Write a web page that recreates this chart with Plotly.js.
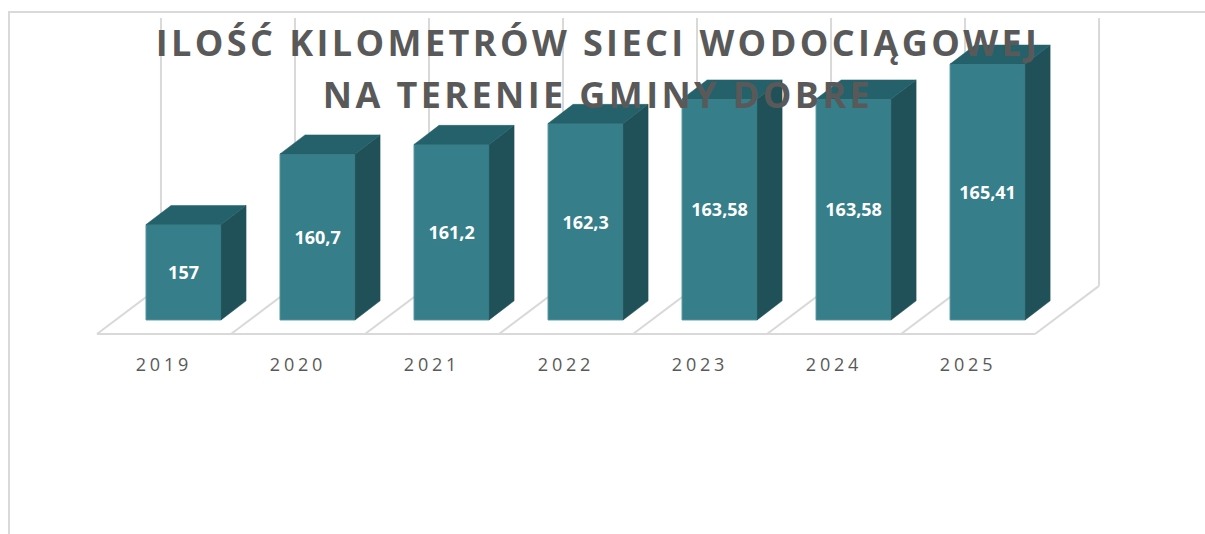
<!DOCTYPE html>
<html>
<head>
<meta charset="utf-8">
<script src="https://cdn.plot.ly/plotly-3.0.1.min.js"></script>
<style>
html,body{margin:0;padding:0;background:#fff;overflow:hidden}
.xtick text{letter-spacing:3.8px}
.gtitle{letter-spacing:3.4px}
</style>
</head>
<body>
<div id="chart" style="width:1205px;height:534px"></div>
<script>
const categories = ["2019","2020","2021","2022","2023","2024","2025"];
const values = [157,160.7,161.2,162.3,163.58,163.58,165.41];

const baseValue = 152;
const barLeft = -0.134, barWidth = 0.56;
const depthX = 0.1866, depthY = 1.0;
const floorFront = 151.264, floorBack = 153.786, wallTop = 167.825, floorDX = 0.4776;

const positions = categories.map((_, i) => i);
const sideX = [], sideY = [], topX = [], topY = [];
values.forEach((v, i) => {
  const l = i + barLeft, r = l + barWidth;
  sideX.push(r, r + depthX, r + depthX, r, r, null);
  sideY.push(v, v + depthY, baseValue + depthY, baseValue, v, null);
  topX.push(l, l + depthX, r + depthX, r, l, null);
  topY.push(v, v + depthY, v + depthY, v, v, null);
});

const gridColor = "#d9d9d9";
const shapes = [];
for (let k = 0; k <= categories.length; k++) {
  const fx = k - 0.5, bx = fx + floorDX;
  shapes.push({type:"line",layer:"below",xref:"x",yref:"y",x0:fx,x1:bx,y0:floorFront,y1:floorBack,line:{color:gridColor,width:2}});
  shapes.push({type:"line",layer:"below",xref:"x",yref:"y",x0:bx,x1:bx,y0:floorBack,y1:wallTop,line:{color:gridColor,width:2}});
}
shapes.push({type:"line",layer:"below",xref:"x",yref:"y",x0:-0.5,x1:categories.length-0.5,y0:floorFront,y1:floorFront,line:{color:gridColor,width:2}});
// outer chart frame (left and top edges only are in view)
const px = p => (p - 90) / (1105 - 90), py = p => 1 - (p - 10) / (340 - 10);
shapes.push({type:"line",layer:"below",xref:"paper",yref:"paper",x0:px(9),x1:px(9),y0:py(12),y1:py(536),line:{color:gridColor,width:2}});
shapes.push({type:"line",layer:"below",xref:"paper",yref:"paper",x0:px(8),x1:px(1207),y0:py(12),y1:py(12),line:{color:gridColor,width:2}});

const traces = [
  {type:"bar",x:positions,y:values.map(v=>v-baseValue),base:baseValue,offset:barLeft,width:barWidth,
   marker:{color:"#357e8a",line:{color:"#4f929c",width:1}},
   text:values.map(v=>String(v).replace(".",",")),textposition:"inside",insidetextanchor:"middle",textangle:0,constraintext:"none",
   textfont:{family:"'Open Sans', sans-serif",size:18,color:"#ffffff",weight:700},hoverinfo:"skip"},
  {type:"scatter",mode:"lines",x:sideX,y:sideY,fill:"toself",fillcolor:"#205158",line:{color:"#205158",width:0.5},hoverinfo:"skip"},
  {type:"scatter",mode:"lines",x:topX,y:topY,fill:"toself",fillcolor:"#25616a",line:{color:"#25616a",width:0.5},hoverinfo:"skip"}
];

const layout = {
  width:1205,height:534,showlegend:false,
  paper_bgcolor:"#ffffff",plot_bgcolor:"rgba(0,0,0,0)",
  margin:{l:90,r:100,t:10,b:194,pad:0},
  font:{family:"'Open Sans', sans-serif",color:"#595959"},
  title:{text:'<span style="font-size:36px">ILOŚĆ KILOMETRÓW SIECI WODOCIĄGOWEJ</span><br><span style="font-size:36px">NA TERENIE GMINY DOBRE</span>',
    font:{size:40,color:"#595959",family:"'Open Sans', sans-serif",weight:700},
    x:0.5005,xanchor:"center",xref:"paper",y:0.8956,yanchor:"top",yref:"container"},
  xaxis:{type:"linear",range:[-0.552,7.022],tickvals:positions,ticktext:categories,
    showgrid:false,zeroline:false,showline:false,ticks:"outside",ticklen:8,tickcolor:"rgba(0,0,0,0)",
    tickfont:{size:18,color:"#595959",family:"'Open Sans', sans-serif"},fixedrange:true},
  yaxis:{type:"linear",range:[150.949,168.245],showgrid:false,zeroline:false,showline:false,showticklabels:false,ticks:"",fixedrange:true},
  shapes:shapes
};
Plotly.newPlot("chart",traces,layout,{displayModeBar:false,staticPlot:true});
</script>
</body>
</html>
